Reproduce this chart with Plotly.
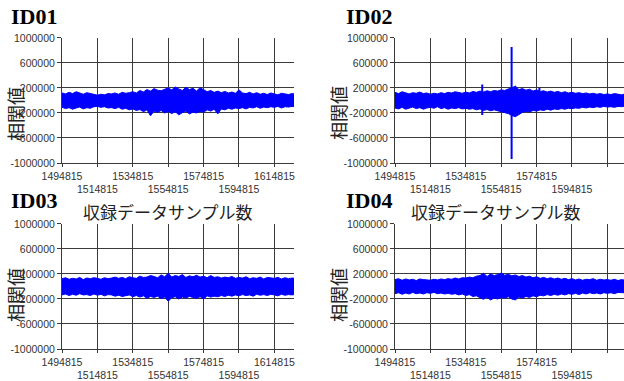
import plotly.graph_objects as go

W, H = 624, 381

# ---------------- data ----------------
x_start = 1494815
x_step = 2000
n_pts = 67
x_positions = [x_start + x_step * i for i in range(n_pts)]

x_tick_values = [1494815, 1514815, 1534815, 1554815, 1574815, 1594815, 1614815]
x_tick_labels = ["1494815", "1514815", "1534815", "1554815", "1574815", "1594815", "1614815"]
y_tick_values = [-1000000, -600000, -200000, 200000, 600000, 1000000]
y_tick_labels = ["-1000000", "-600000", "-200000", "200000", "600000", "1000000"]

panel_titles = ["ID01", "ID02", "ID03", "ID04"]
x_title = "収録データサンプル数"
y_title = "相関値"

# envelope of the correlation value (thousands)
id01_upper = [120,105,130,110,140,115,100,125,110,95,
              85,100,90,110,105,120,100,130,115,125,
              140,120,160,135,175,150,190,165,155,180,
              200,170,215,185,160,210,175,195,150,205,
              170,140,160,130,150,125,145,120,135,115,
              170,120,110,130,105,125,100,115,95,120,
              105,90,115,100,95,110,100]
id01_lower = [-110,-130,-115,-140,-120,-105,-135,-115,-125,-100,
              -95,-110,-100,-120,-115,-130,-110,-140,-125,-150,
              -135,-160,-145,-180,-150,-245,-170,-190,-160,-200,
              -175,-210,-180,-230,-195,-170,-215,-185,-200,-175,
              -190,-150,-170,-140,-215,-135,-150,-125,-140,-120,
              -130,-115,-135,-110,-120,-100,-125,-105,-115,-100,
              -110,-95,-120,-100,-105,-95,-100]

id02_upper = [130,110,140,120,105,125,115,135,110,120,
              100,115,105,125,110,130,120,140,125,115,
              135,120,145,130,150,135,155,140,160,150,
              170,160,185,200,230,175,190,165,180,150,
              170,145,155,135,150,130,145,125,140,120,
              130,115,125,110,120,105,115,100,110,95,
              105,95,110,100,90,105,100]
id02_lower = [-120,-135,-110,-140,-125,-105,-130,-115,-140,-120,
              -110,-125,-100,-130,-115,-140,-120,-130,-115,-135,
              -125,-140,-130,-150,-135,-160,-145,-165,-150,-170,
              -180,-195,-210,-240,-260,-220,-190,-175,-185,-160,
              -170,-150,-160,-140,-155,-135,-145,-130,-140,-125,
              -130,-120,-125,-110,-120,-105,-115,-100,-110,-95,
              -105,-100,-110,-95,-100,-90,-100]
id02_spike_x = [1544100, 1560700, 1576400]
id02_spike_hi = [256, 856, 200]
id02_spike_lo = [-234, -936, -150]

id03_upper = [125,140,115,130,120,145,110,135,125,140,
              130,115,140,125,135,150,130,145,125,155,
              140,130,165,145,150,175,160,140,185,155,
              210,150,175,160,190,145,170,155,180,150,
              165,140,175,145,155,135,150,140,160,130,
              145,135,155,125,140,130,150,120,145,135,
              130,145,120,140,125,135,130]
id03_lower = [-135,-120,-145,-125,-140,-115,-135,-130,-145,-120,
              -140,-125,-150,-130,-135,-155,-140,-160,-150,-135,
              -165,-145,-170,-150,-190,-160,-175,-155,-195,-170,
              -235,-180,-165,-200,-170,-185,-160,-175,-190,-165,
              -200,-150,-170,-155,-165,-145,-160,-140,-155,-135,
              -150,-130,-145,-135,-155,-125,-140,-130,-145,-125,
              -135,-150,-125,-140,-130,-135,-125]

id04_upper = [110,125,100,120,105,115,95,120,110,105,
              100,115,105,120,110,125,115,135,120,140,
              135,150,140,165,175,210,160,200,175,190,
              215,180,195,170,185,160,175,150,165,140,
              155,130,145,125,140,120,135,115,130,110,
              125,105,120,100,115,110,125,100,115,105,
              110,100,115,95,110,100,105]
id04_lower = [-115,-100,-125,-105,-120,-95,-115,-105,-120,-100,
              -110,-95,-115,-105,-120,-110,-125,-115,-135,-120,
              -145,-130,-160,-150,-180,-205,-170,-215,-185,-200,
              -175,-190,-165,-200,-215,-170,-185,-160,-175,-150,
              -165,-140,-150,-130,-145,-125,-140,-120,-135,-115,
              -125,-110,-130,-105,-120,-100,-115,-105,-120,-100,
              -110,-100,-115,-95,-105,-100,-105]

# ---------------- layout geometry (px) ----------------
panels = [
    dict(upper=id01_upper, lower=id01_lower, spikes=None,
         left=62, right=294, top=37.7, bottom=163, xend=1625900,
         title_xy=(34, 17), ytitle_xy=(15, 114), xtitle_xy=(168, 211)),
    dict(upper=id02_upper, lower=id02_lower,
         spikes=(id02_spike_x, id02_spike_hi, id02_spike_lo),
         left=395, right=624, top=37.7, bottom=163, xend=1624200,
         title_xy=(368.5, 17), ytitle_xy=(338, 113), xtitle_xy=(496, 211)),
    dict(upper=id03_upper, lower=id03_lower, spikes=None,
         left=62, right=294, top=223.7, bottom=349, xend=1625900,
         title_xy=(34, 200), ytitle_xy=(15, 295), xtitle_xy=None),
    dict(upper=id04_upper, lower=id04_lower, spikes=None,
         left=395, right=624, top=223.7, bottom=349, xend=1624200,
         title_xy=(368.5, 200), ytitle_xy=(338, 295), xtitle_xy=None),
]

BLUE = "#0000ff"
GRID = "#3a3a3a"
TICKFONT = dict(family="Liberation Sans", size=10.5, color="#333333")

fig = go.Figure()
annotations = []
layout = dict(width=W, height=H, margin=dict(l=0, r=0, t=0, b=0, autoexpand=False),
              paper_bgcolor="white", plot_bgcolor="white", showlegend=False)

x_ticktext = [lab if k % 2 == 0 else "<br>" + lab for k, lab in enumerate(x_tick_labels)]

for i, p in enumerate(panels):
    n = "" if i == 0 else str(i + 1)
    xa, ya = "x" + n, "y" + n
    up = [v * 1000 for v in p["upper"]]
    lo = [v * 1000 for v in p["lower"]]
    fig.add_trace(go.Scatter(
        x=x_positions + x_positions[::-1], y=up + lo[::-1],
        fill="toself", fillcolor=BLUE, mode="lines",
        line=dict(color=BLUE, width=1), xaxis=xa, yaxis=ya, hoverinfo="skip"))
    if p["spikes"]:
        sx, shi, slo = p["spikes"]
        xs, ys = [], []
        for a, b, c in zip(sx, shi, slo):
            xs += [a, a, None]
            ys += [b * 1000, c * 1000, None]
        fig.add_trace(go.Scatter(x=xs, y=ys, mode="lines",
                                 line=dict(color=BLUE, width=2),
                                 xaxis=xa, yaxis=ya, hoverinfo="skip"))
    layout["xaxis" + n] = dict(
        domain=[p["left"] / W, min(p["right"] / W, 1.0)],
        anchor=ya, range=[x_start, p["xend"]], automargin=False,
        tickmode="array", tickvals=x_tick_values, ticktext=x_ticktext,
        tickangle=0, ticks="outside", ticklen=3, tickcolor=GRID,
        showgrid=True, gridcolor=GRID, gridwidth=1,
        showline=True, linecolor=GRID, linewidth=1,
        zeroline=False, tickfont=TICKFONT)
    layout["yaxis" + n] = dict(
        domain=[1 - p["bottom"] / H, 1 - p["top"] / H],
        anchor=xa, range=[-1000000, 1004000], automargin=False,
        tickmode="array", tickvals=y_tick_values, ticktext=y_tick_labels,
        ticks="outside", ticklen=4, tickcolor=GRID,
        showgrid=True, gridcolor=GRID, gridwidth=1,
        showline=True, linecolor=GRID, linewidth=1,
        zeroline=False, tickfont=TICKFONT)
    tx, ty = p["title_xy"]
    annotations.append(dict(text="<b>" + panel_titles[i] + "</b>", x=tx / W, y=1 - ty / H,
                            xref="paper", yref="paper", showarrow=False,
                            font=dict(family="Liberation Serif", size=22, color="black"),
                            xanchor="center", yanchor="middle"))
    yx, yy = p["ytitle_xy"]
    annotations.append(dict(text=y_title, x=yx / W, y=1 - yy / H,
                            xref="paper", yref="paper", showarrow=False, textangle=-90,
                            font=dict(family="Noto Sans CJK JP", size=18, color="#222222"),
                            xanchor="center", yanchor="middle"))
    if p["xtitle_xy"]:
        xx, xy = p["xtitle_xy"]
        annotations.append(dict(text=x_title, x=xx / W, y=1 - xy / H,
                                xref="paper", yref="paper", showarrow=False,
                                font=dict(family="Noto Sans CJK JP", size=17, color="#222222"),
                                xanchor="center", yanchor="middle"))

layout["annotations"] = annotations
fig.update_layout(**layout)
fig.write_html("out.html")
